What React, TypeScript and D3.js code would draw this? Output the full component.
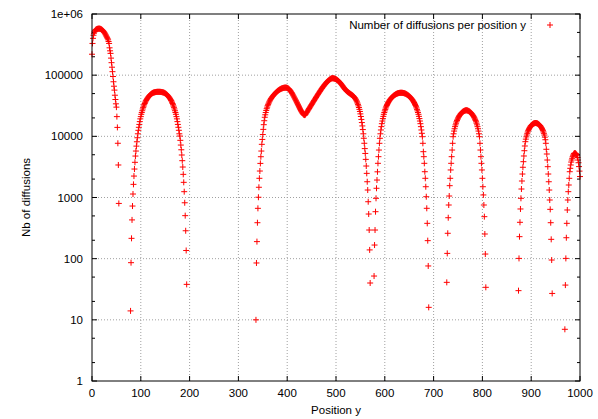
import React from 'react';
import * as d3 from 'd3';

// Start position (y) of each lobe; values are at consecutive integer positions
const lobeStarts = [0, 79, 336, 578, 727, 874, 969];

const lobe1 = [220000, 330000, 400000, 450000, 485000, 510000, 530000, 545000, 555000, 562000, 567000, 571000, 573000, 575000, 575000,
  575000, 575000, 572000, 568000, 562000, 555000, 547000, 538000, 527000, 515000, 502000, 488000, 473000, 457000, 440000,
  425000, 410000, 395000, 378000, 355000, 330000, 280000, 250000, 227000, 190000, 160000, 135000, 114000, 95000, 78000,
  66000, 57000, 47000, 40000, 34000, 30000, 21000, 14000, 7700, 3400, 800];

const lobe2 = [14, 86, 215, 430, 725, 1140, 1640, 2240, 2920, 3760, 4760, 5750, 6920, 8150, 9480,
  11000, 12550, 14050, 15650, 17400, 19300, 21000, 22900, 24500, 26200, 28000, 29800, 31300, 32900, 34400, 36000, 37600,
  38700, 39900, 41300, 42400, 43500, 44500, 45600, 46600, 47500, 48300, 49100, 49800, 50300, 50900, 51500, 51800, 52200,
  52400, 52700, 52900, 53100, 53200, 53300, 53400, 53400, 53400,
  53400, 53400, 53400, 53300, 53200, 53100, 52900, 52700, 52400, 52200, 51800, 51500, 50900, 50300, 49800, 49100, 48300,
  47500, 46600, 45600, 44500, 43500, 42400, 41300, 39900, 38700, 37600, 36000, 34400, 32900, 31300, 29800, 28000, 26200,
  24500, 22900, 21000, 19300, 17400, 15650, 14050, 12550, 11000,
  10100, 8600, 7200, 6030, 4950, 4000, 3150, 2390, 1770, 1245, 820, 505, 286, 136, 38];

const lobe3 = [10, 85, 190, 387, 665, 1010, 1470, 2060, 2710, 3610, 4640, 5750, 7400, 8900, 10700, 13000,
  15500, 18000, 20500, 22500, 24500, 26500, 28300, 30000, 31700, 33300, 34800, 36300, 37700, 39000, 40300, 41500, 42700, 43800,
  44900, 46000, 47000, 48000, 49000, 50000, 51000, 52000, 53000, 53900, 54800, 55600, 56400, 57100, 57800, 58500, 59100, 59700,
  60200, 60700, 61100, 61500, 61800, 62100, 62300, 62400, 62500, 62500,
  62400, 62200, 61800, 61300, 60600, 59800, 58800, 57700, 56400, 55000, 53500, 52000, 50400, 48800, 47200, 45600, 44000, 42500,
  41000, 39600, 38200, 36800, 35500, 34200, 33000, 31800, 30600, 29500, 28400, 27400, 26500, 25600, 24800, 24100, 23500, 23000,
  22600, 22300, 22200,
  22600, 23200, 23900, 24600, 25300, 26100, 26900, 27700, 28500, 29400, 30300, 31200, 32100, 33100, 34100, 35100, 36200, 37300,
  38400, 39500, 40700, 41900, 43200, 44500, 45800, 47100, 48500, 49900, 51300, 52800, 54300, 55800, 57400, 59000, 60600, 62200,
  63800, 65400, 67000, 68600, 70200, 71800, 73400, 75000, 76600, 78100, 79600, 81000, 82400, 83700, 84900, 86000, 87000, 87900,
  88600, 89000,
  89100, 89000, 88700, 88300, 87800, 87200, 86500, 85700, 84800, 83800, 82700, 81500, 80200, 78800, 77300, 75800, 74200, 72600,
  70900, 69200, 67500, 65800, 64100, 62500, 61000, 59600, 58300, 57100, 56000, 55000, 54100, 53300, 52500, 51800, 51100, 50400,
  49700,
  49000, 48400, 47800, 47200, 46500, 45800, 45000, 44100, 43100, 42000, 40800, 39500, 38100, 36600, 35000, 33300, 31500, 29600,
  27600, 25500, 23300, 21100, 18900, 16800, 14800, 12900, 11000, 9300, 7700, 6300, 5250, 4200, 3270, 2480, 1810, 1325, 853, 537,
  294, 139, 40];

const lobe4 = [52, 167, 294, 586, 970, 1415, 1930, 2630, 3620, 4650, 5970, 7690, 9290, 11000, 12700, 14400, 16100, 17800, 19500,
  21200, 22900, 24500, 26100, 27600, 29100, 30500, 31900, 33200, 34500, 35700, 36900, 38000, 39100, 40100, 41100, 42000, 42900,
  43700, 44500, 45300, 46000, 46700, 47300, 47900, 48500, 49000, 49500, 49900, 50300, 50600, 50900, 51100, 51300, 51400, 51500,
  51500, 51500, 51500, 51400, 51300, 51100, 50900, 50600, 50300, 49900, 49500, 49000, 48500, 47900, 47300, 46700, 46000, 45300,
  44500, 43700, 42900, 42000, 41100, 40100, 39100, 38000, 36900, 35700, 34500, 33200, 31900, 30500, 29100, 27600, 26100, 24500,
  22900, 21200, 19500, 17800, 16100, 14400, 12700, 11200, 9860, 7690, 5610, 4650, 3620, 2640, 2060, 1500, 1030, 666, 378, 197,
  76, 16];

const lobe5 = [41, 122, 260, 467, 754, 1057, 1560, 2060, 2820, 3620, 4650, 5970, 7690, 9860, 11000, 12200, 13300, 14400, 15400,
  16400, 17300, 18200, 19000, 19800, 20500, 21200, 21800, 22400, 23000, 23500, 24000, 24500, 24900, 25300, 25600, 25900, 26100,
  26300, 26500, 26600, 26700, 26600, 26500, 26300, 26100, 25900, 25600, 25300, 24900, 24500, 24000, 23500, 23000, 22400, 21800,
  21200, 20500, 19800, 19000, 18200, 17300, 16400, 15400, 14400, 13300, 12200, 11000, 9860, 7690, 5970, 4650, 3620, 2820, 2060,
  1500, 1100, 754, 486, 253, 119, 34];

const lobe6 = [30, 101, 229, 393, 649, 970, 1377, 1860, 2420, 3120, 3850, 4770, 5820, 6950, 8170, 9000, 9800, 10500, 11200, 11800,
  12400, 12900, 13400, 13900, 14300, 14700, 15000, 15300, 15600, 15800, 16000, 16200, 16300, 16400, 16500, 16500, 16500, 16400,
  16300, 16200, 16000, 15800, 15600, 15300, 15000, 14700, 14300, 13900, 13400, 12900, 12400, 11800, 11200, 10500, 9700, 8800,
  7690, 6140, 5140, 4100, 3190, 2420, 1810, 1325, 910, 640, 387, 207, 95, 27];

const lobe7 = [7, 37, 101, 220, 378, 625, 910, 1245, 1600, 2060, 2640, 3000, 3400, 3800, 4100, 4370, 4650, 4900, 5100, 5250, 5300,
  5300, 5250, 5150, 5000, 4800, 4500, 4100, 3700, 3200, 2700, 2200];

const lobes = [lobe1, lobe2, lobe3, lobe4, lobe5, lobe6, lobe7];

const xTicks = [0, 100, 200, 300, 400, 500, 600, 700, 800, 900, 1000];
const yTicks = [1, 10, 100, 1000, 10000, 100000, 1000000];
const yTickLabels = ['1', '10', '100', '1000', '10000', '100000', '1e+06'];
const minorFactors = [2, 5];

const seriesLabel = 'Number of diffusions per position y';
const xTitle = 'Position y';
const yTitle = 'Nb of diffusions';

const FONT = '"Liberation Sans", Arial, Helvetica, sans-serif';

export default function App() {
  const W = 598, H = 419;
  const L = 92, R = 580, T = 14, B = 381;
  const x = d3.scaleLinear().domain([0, 1000]).range([L, R]);
  const y = d3.scaleLog().domain([1, 1e6]).range([B, T]);

  const points = lobes.flatMap((arr, i) => arr.map((v, j) => ({ px: x(lobeStarts[i] + j), py: y(v) })));
  const minorTicks: number[] = [];
  yTicks.slice(0, -1).forEach(t => minorFactors.forEach(f => minorTicks.push(t * f)));

  const plus = (cx: number, cy: number, s = 3) => `M${cx - s},${cy}h${2 * s}M${cx},${cy - s}v${2 * s}`;
  const markerPath = points.map(p => plus(p.px, p.py)).join('');

  return (
    <svg width={W} height={H} style={{ position: 'absolute', left: 0, top: 0, background: '#fff' }} fontFamily={FONT}>
      <rect x={0} y={0} width={W} height={H} fill="#fff" />
      {/* grid */}
      <g stroke="#a0a0a0" strokeWidth={1} strokeDasharray="1,2">
        {xTicks.slice(1, -1).map(t => <line key={'gx' + t} x1={x(t)} x2={x(t)} y1={T} y2={B} />)}
        {yTicks.slice(1, -1).map(t => <line key={'gy' + t} x1={L} x2={R} y1={y(t)} y2={y(t)} />)}
      </g>
      {/* ticks */}
      <g stroke="#000" strokeWidth={1}>
        {xTicks.map(t => <line key={'bt' + t} x1={x(t)} x2={x(t)} y1={B} y2={B - 5} />)}
        {xTicks.map(t => <line key={'tt' + t} x1={x(t)} x2={x(t)} y1={T} y2={T + 5} />)}
        {yTicks.map(t => <line key={'lt' + t} x1={L} x2={L + 5} y1={y(t)} y2={y(t)} />)}
        {yTicks.map(t => <line key={'rt' + t} x1={R} x2={R - 5} y1={y(t)} y2={y(t)} />)}
        {minorTicks.map(t => <line key={'lm' + t} x1={L} x2={L + 3} y1={y(t)} y2={y(t)} />)}
        {minorTicks.map(t => <line key={'rm' + t} x1={R} x2={R - 3} y1={y(t)} y2={y(t)} />)}
      </g>
      {/* data */}
      <path d={markerPath} stroke="#ff0000" strokeWidth={1} fill="none" />
      {/* frame */}
      <rect x={L} y={T} width={R - L} height={B - T} fill="none" stroke="#000" strokeWidth={1} />
      {/* tick labels */}
      <g fontSize={11.5} fill="#000">
        {xTicks.map(t => <text key={'xl' + t} x={x(t)} y={397} textAnchor="middle">{t}</text>)}
        {yTicks.map((t, i) => <text key={'yl' + t} x={83} y={y(t) + 4} textAnchor="end">{yTickLabels[i]}</text>)}
      </g>
      {/* titles */}
      <text x={(L + R) / 2} y={414} textAnchor="middle" fontSize={11.5}>{xTitle}</text>
      <text transform={`translate(30,${(T + B) / 2}) rotate(-90)`} textAnchor="middle" fontSize={11.5}>{yTitle}</text>
      {/* legend */}
      <text x={526} y={29} textAnchor="end" fontSize={11.5}>{seriesLabel}</text>
      <path d={plus(550, 25)} stroke="#ff0000" strokeWidth={1} fill="none" />
    </svg>
  );
}
